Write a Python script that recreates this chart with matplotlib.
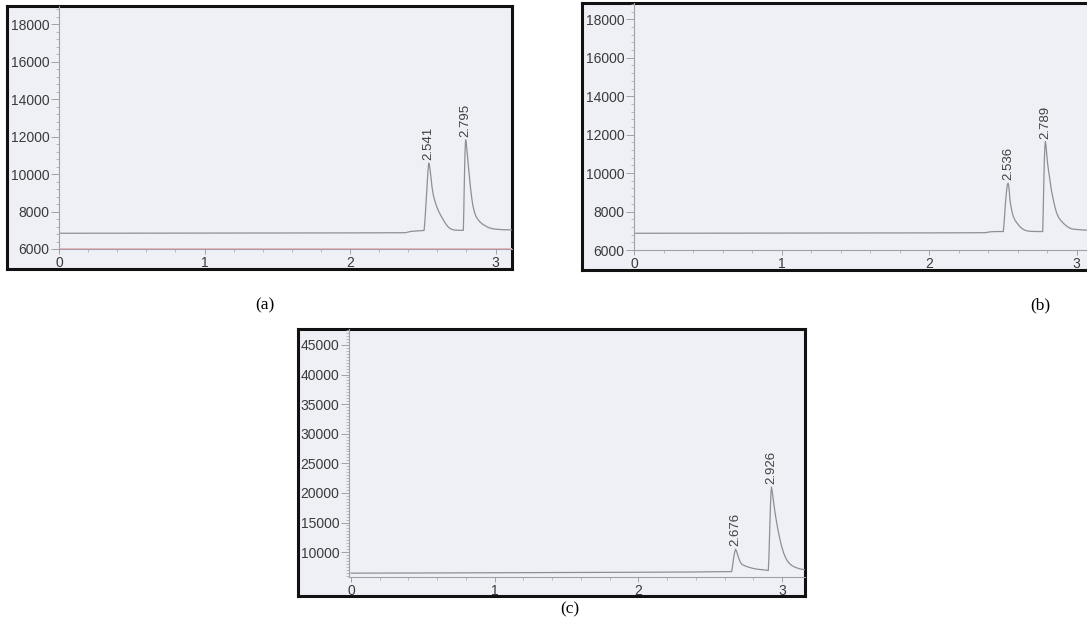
import numpy as np
import matplotlib
matplotlib.use("Agg")
import matplotlib.pyplot as plt
from matplotlib.ticker import MultipleLocator

W, H = 1087, 637

# ---- data (time in min, signal) ----
# panel (a)
a_time = [0.0, 0.5, 1.0, 1.5, 2.0, 2.38, 2.42, 2.47, 2.509, 2.515, 2.522, 2.53, 2.536,
          2.541, 2.545, 2.55, 2.556, 2.564, 2.572, 2.584, 2.596, 2.608, 2.62, 2.631,
          2.642, 2.653, 2.665, 2.676, 2.687, 2.70, 2.72, 2.75, 2.779,
          2.782, 2.786, 2.790, 2.793, 2.795, 2.799, 2.804, 2.81, 2.817, 2.824, 2.83,
          2.838, 2.845, 2.855, 2.865, 2.88, 2.894, 2.91, 2.93, 2.945, 2.962, 2.98,
          3.0, 3.05, 3.13]
a_signal = [6840, 6845, 6850, 6855, 6860, 6870, 6940, 6970, 6990, 7500, 8400, 9400, 10200,
            10590, 10500, 10250, 9850, 9300, 8900, 8550, 8260, 8030, 7850, 7690,
            7550, 7400, 7270, 7170, 7100, 7050, 7010, 7000, 7000,
            8000, 9700, 11000, 11650, 11830, 11650, 11250, 10750, 10150, 9600, 9150,
            8650, 8300, 7980, 7750, 7570, 7440, 7330, 7240, 7170, 7120, 7080,
            7060, 7030, 7020]
a_peaks = [2.541, 2.795]
a_heights = [10590, 11830]
a_labels = ["2.541", "2.795"]

# panel (b)
b_time = [0.0, 0.5, 1.0, 1.5, 2.0, 2.38, 2.42, 2.47, 2.504, 2.510, 2.517, 2.524, 2.530,
          2.536, 2.540, 2.545, 2.549, 2.556, 2.564, 2.572, 2.584, 2.595, 2.606, 2.617,
          2.632, 2.647, 2.662, 2.69, 2.73, 2.771,
          2.774, 2.778, 2.782, 2.786, 2.789, 2.793, 2.798, 2.804, 2.812, 2.820, 2.830,
          2.843, 2.855, 2.866, 2.88, 2.895, 2.911, 2.93, 2.956, 2.98, 3.0, 3.044, 3.12]
b_signal = [6870, 6875, 6880, 6885, 6890, 6900, 6950, 6960, 6960, 7500, 8300, 8950, 9350,
            9480, 9350, 9000, 8600, 8250, 7950, 7730, 7540, 7420, 7310, 7210,
            7110, 7040, 7000, 6970, 6960, 6960,
            7900, 9400, 10700, 11400, 11640, 11450, 11000, 10500, 10050, 9640, 9100,
            8600, 8200, 7910, 7680, 7520, 7390, 7260, 7130, 7080, 7070, 7040, 7030]
b_peaks = [2.536, 2.789]
b_heights = [9480, 11640]
b_labels = ["2.536", "2.789"]

# panel (c)
c_time = [0.0, 0.5, 1.0, 1.5, 2.0, 2.4, 2.5, 2.6, 2.649, 2.655, 2.662, 2.669, 2.676,
          2.682, 2.69, 2.698, 2.707, 2.718, 2.73, 2.742, 2.754, 2.77, 2.79, 2.81,
          2.823, 2.86, 2.904,
          2.908, 2.913, 2.918, 2.922, 2.926, 2.932, 2.94, 2.95, 2.962, 2.975, 2.987,
          2.997, 3.01, 3.02, 3.032, 3.05, 3.07, 3.09, 3.12, 3.15, 3.2, 3.3]
c_signal = [6450, 6480, 6520, 6560, 6600, 6650, 6680, 6700, 6720, 7600, 8900, 9900, 10500,
            10200, 9600, 9000, 8410, 8000, 7800, 7680, 7570, 7430, 7300, 7190,
            7130, 7040, 6900,
            9000, 13000, 17000, 19800, 21000, 20200, 18600, 16800, 15000, 13300, 11950,
            10950, 9900, 9300, 8700, 8100, 7700, 7450, 7200, 7050, 6950, 6900]
c_peaks = [2.676, 2.926]
c_heights = [10500, 21000]
c_labels = ["2.676", "2.926"]

plt.rcParams['font.family'] = ['Liberation Sans', 'DejaVu Sans']

fig = plt.figure(figsize=(W / 100, H / 100), dpi=100)
fig.patch.set_facecolor("white")


def rect(x0, y0, x1, y1):
    return [x0 / W, 1 - y1 / H, (x1 - x0) / W, (y1 - y0) / H]


def panel(frame_box, plot_box, xlim, ylim, ymajor, yminor,
          time, signal, peaks, heights, labels, red_axis=False):
    fr = fig.add_axes(rect(*frame_box))
    fr.set_facecolor("#eef0f6")
    fr.set_xticks([])
    fr.set_yticks([])
    for s in fr.spines.values():
        s.set_color("#111111")
        s.set_linewidth(2.2)
    fr.set_zorder(0)

    ax = fig.add_axes(rect(*plot_box))
    ax.set_facecolor("none")
    ax.set_zorder(1)
    ax.set_xlim(*xlim)
    ax.set_ylim(*ylim)
    for side in ["top", "right"]:
        ax.spines[side].set_visible(False)
    for side in ["left", "bottom"]:
        ax.spines[side].set_color("#a0a0a8")
        ax.spines[side].set_linewidth(0.8)
    ax.xaxis.set_major_locator(MultipleLocator(1))
    ax.xaxis.set_minor_locator(MultipleLocator(0.2))
    ax.yaxis.set_major_locator(MultipleLocator(ymajor))
    ax.yaxis.set_minor_locator(MultipleLocator(yminor))
    ax.tick_params(axis="both", which="both", colors="#a0a0a8", labelcolor="#3a3a3a",
                   labelsize=10, direction="out")
    ax.tick_params(axis="y", which="major", length=5.5, pad=1.5, width=0.7)
    ax.tick_params(axis="y", which="minor", length=2.2, width=0.5)
    ax.tick_params(axis="x", which="major", length=3.5, pad=1.5, width=0.7)
    ax.tick_params(axis="x", which="minor", length=2.5, width=0.5)
    ax.set_yticks([v for v in ax.get_yticks() if v >= ylim[0] and v <= ylim[1] - 400])

    if red_axis:
        ax.axhline(ylim[0] + 40, color="#f0b8b8", lw=0.7, zorder=1)
    ax.plot(time, signal, color="#8e8e98", lw=0.9, zorder=2)
    for t, h, lab in zip(peaks, heights, labels):
        ax.annotate(lab, xy=(t, h), xytext=(0, 2), textcoords="offset points",
                    rotation=90, ha="center", va="bottom", fontsize=9.5,
                    color="#404040")
    return ax


# (a)
panel((7, 6, 512, 269), (59, 6, 512, 249),
      (0, (512 - 59) / 145.5), (6000, 6000 + (249 - 6) / 37.45 * 2000),
      2000, 400, a_time, a_signal, a_peaks, a_heights, a_labels, red_axis=True)

# (b)
panel((582, 3, 1093, 270), (634, 3, 1093, 250),
      (0, (1093 - 634) / 147.5), (6000, 6000 + (250 - 3) / 38.45 * 2000),
      2000, 400, b_time, b_signal, b_peaks, b_heights, b_labels)

# (c)
panel((298, 329, 805, 596), (349, 329, 805, 577),
      (-0.014, (805 - 351) / 143.7), (5800, 5800 + (577 - 329) / 29.6 * 5000),
      5000, 500, c_time, c_signal, c_peaks, c_heights, c_labels)

serif = ['Liberation Serif', 'DejaVu Serif']
fig.text(265 / W, 1 - 305 / H, "(a)", family=serif, fontsize=12.5, ha="center", va="center")
fig.text(1040 / W, 1 - 305 / H, "(b)", family=serif, fontsize=12.5, ha="center", va="center")
fig.text(570 / W, 1 - 609 / H, "(c)", family=serif, fontsize=12.5, ha="center", va="center")

fig.savefig("out.png", dpi=100)
